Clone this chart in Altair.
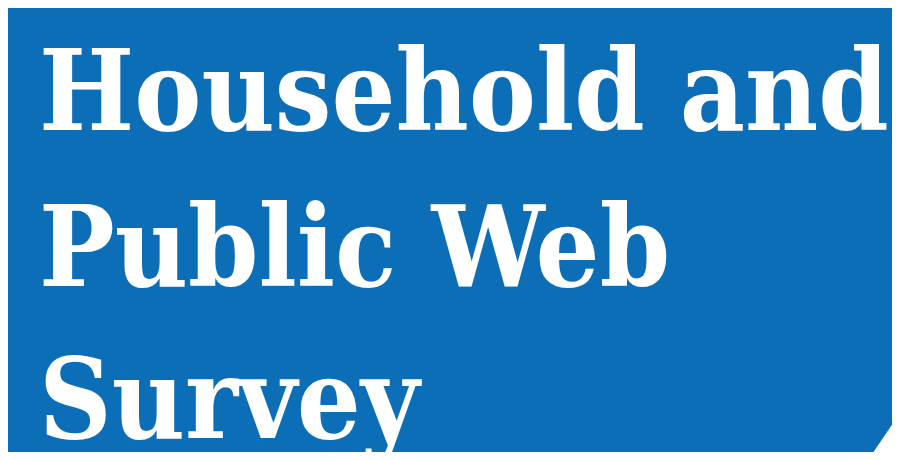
import altair as alt
import pandas as pd

# Content
title_lines = ["Household and", "Public Web", "Survey"]

# Layout (reference pixel coordinates)
line_baselines = [130, 286, 438]
line_left = [39, 39, 39]
corner_x = [868, 900]
corner_top = [460, 413]
corner_bottom = [460, 460]

BLUE = "#0D6EB8"
X0, X1, Y0, Y1 = 8, 892, 8, 452   # visible area inside the 8px page margin
W, H = X1 - X0, Y1 - Y0

text_df = pd.DataFrame({"label": title_lines, "x": line_left, "y": line_baselines})
tri_df = pd.DataFrame({"x": corner_x, "y": corner_top, "y2": corner_bottom})

xs = alt.Scale(domain=[X0, X1], range=[0, W], nice=False, zero=False)
ys = alt.Scale(domain=[Y0, Y1], range=[0, H], nice=False, zero=False)

text = alt.Chart(text_df).mark_text(
    font="DejaVu Serif Condensed",
    fontWeight="bold",
    fontSize=112,
    align="left",
    baseline="alphabetic",
    color="white",
).encode(
    x=alt.X("x:Q", scale=xs, axis=None),
    y=alt.Y("y:Q", scale=ys, axis=None),
    text="label:N",
)

tri = alt.Chart(tri_df).mark_area(color="white", opacity=1, clip=True).encode(
    x=alt.X("x:Q", scale=xs, axis=None),
    y=alt.Y("y:Q", scale=ys, axis=None),
    y2="y2:Q",
)

chart = (
    alt.layer(tri, text)
    .properties(width=W, height=H, background=BLUE, padding=0,
                autosize=alt.AutoSizeParams(type="none"))
    .configure_view(stroke=None)
)

chart.save("out.html", embed_options={"renderer": "svg", "actions": False})
